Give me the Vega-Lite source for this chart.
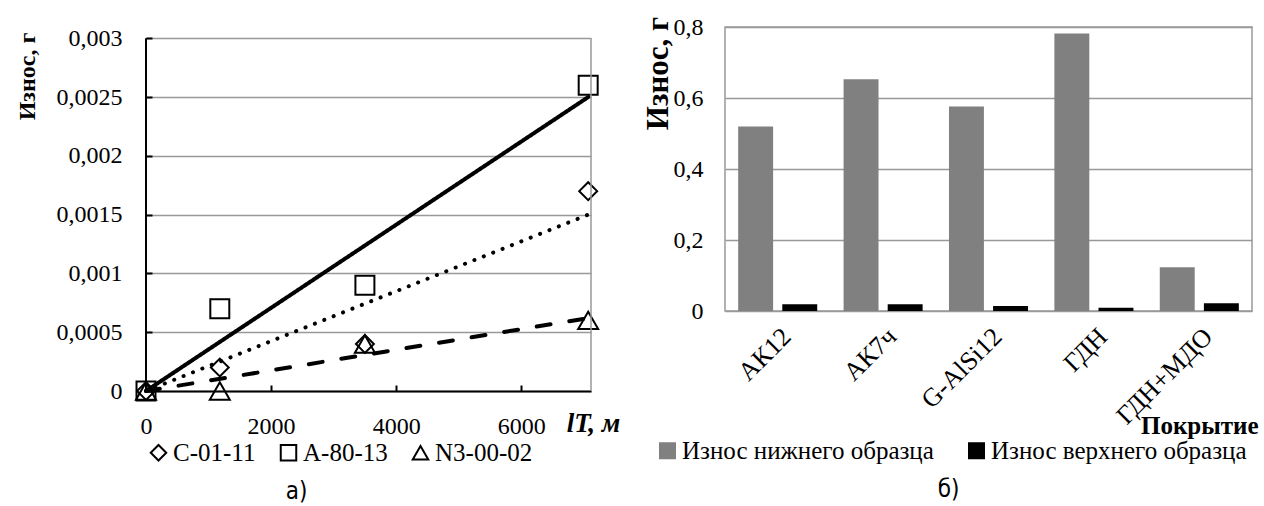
{
  "$schema": "https://vega.github.io/schema/vega-lite/v6.json",
  "background": "white",
  "padding": {"left": 15, "top": 14, "right": 0, "bottom": 0},
  "bounds": "flush",
  "spacing": 134,
  "resolve": {"legend": {"color": "independent", "shape": "independent"}, "scale": {"color": "independent", "shape": "independent"}},
  "config": {
    "view": {"stroke": null},
    "font": "Liberation Serif",
    "axis": {"labelFont": "Liberation Serif", "titleFont": "Liberation Serif", "labelColor": "black", "titleColor": "black", "labelFlush": false},
    "legend": {"labelFont": "Liberation Serif", "labelColor": "black", "labelLimit": 0}
  },
  "datasets": {
    "pts": [
      {"series": "C-01-11", "x": 0, "y": 0},
      {"series": "C-01-11", "x": 1180, "y": 0.0002},
      {"series": "C-01-11", "x": 3500, "y": 0.0004},
      {"series": "C-01-11", "x": 7070, "y": 0.0017},
      {"series": "A-80-13", "x": 0, "y": 0},
      {"series": "A-80-13", "x": 1180, "y": 0.0007},
      {"series": "A-80-13", "x": 3500, "y": 0.0009},
      {"series": "A-80-13", "x": 7070, "y": 0.0026},
      {"series": "N3-00-02", "x": 0, "y": 0},
      {"series": "N3-00-02", "x": 1180, "y": 0},
      {"series": "N3-00-02", "x": 3500, "y": 0.0004},
      {"series": "N3-00-02", "x": 7070, "y": 0.0006}
    ],
    "trend": [
      {"series": "C-01-11", "x": 0, "y": 0},
      {"series": "C-01-11", "x": 7070, "y": 0.0015},
      {"series": "A-80-13", "x": 0, "y": 0},
      {"series": "A-80-13", "x": 7070, "y": 0.0025},
      {"series": "N3-00-02", "x": 0, "y": 0},
      {"series": "N3-00-02", "x": 7070, "y": 0.00062}
    ],
    "bars": [
      {"coating": "АК12", "sample": "Износ нижнего образца", "value": 0.52},
      {"coating": "АК12", "sample": "Износ верхнего образца", "value": 0.019},
      {"coating": "АК7ч", "sample": "Износ нижнего образца", "value": 0.653},
      {"coating": "АК7ч", "sample": "Износ верхнего образца", "value": 0.019},
      {"coating": "G-AlSi12", "sample": "Износ нижнего образца", "value": 0.576},
      {"coating": "G-AlSi12", "sample": "Износ верхнего образца", "value": 0.014},
      {"coating": "ГДН", "sample": "Износ нижнего образца", "value": 0.782},
      {"coating": "ГДН", "sample": "Износ верхнего образца", "value": 0.009},
      {"coating": "ГДН+МДО", "sample": "Износ нижнего образца", "value": 0.123},
      {"coating": "ГДН+МДО", "sample": "Износ верхнего образца", "value": 0.022}
    ]
  },
  "hconcat": [
    {
      "width": 445,
      "height": 364,
      "title": {"text": "а)", "orient": "bottom", "frame": "group", "offset": 14, "anchor": "middle", "dx": -72, "font": "Liberation Sans Narrow, DejaVu Sans Condensed, sans-serif", "fontSize": 24, "fontWeight": "normal", "color": "black"},
      "layer": [
        {
          "data": {"name": "trend"},
          "mark": {"type": "line", "color": "black", "strokeWidth": 4, "strokeCap": "round"},
          "encoding": {
            "x": {"field": "x", "type": "quantitative", "scale": {"domain": [0, 7115], "nice": false, "zero": false},
              "axis": {"title": "lT, м", "values": [0, 2000, 4000, 6000], "format": "d", "grid": false, "domain": true, "domainColor": "black", "domainWidth": 2, "ticks": true, "tickSize": -6, "tickColor": "black", "tickWidth": 2, "labelPadding": 29, "labelFontSize": 24, "titleFontSize": 27, "titleFontStyle": "italic", "titleFontWeight": "bold", "titleX": 447, "titleY": 32, "titleAlign": "center", "titleBaseline": "middle"}},
            "y": {"field": "y", "type": "quantitative", "scale": {"domain": [0, 0.0030963], "nice": false, "zero": false},
              "axis": {"title": "Износ, г", "values": [0, 0.0005, 0.001, 0.0015, 0.002, 0.0025, 0.003], "format": "~g", "labelExpr": "replace(datum.label, '.', ',')", "grid": true, "gridColor": "#999999", "gridWidth": 1.5, "domain": false, "ticks": true, "tickSize": -6, "tickColor": "black", "tickWidth": 2, "labelPadding": 30, "labelFontSize": 24, "titleFontSize": 24, "titleFontWeight": "bold", "titleX": -119, "titleY": 49, "titleAlign": "center", "titleBaseline": "middle", "titleAngle": -90}},
            "strokeDash": {"field": "series", "type": "nominal", "scale": {"domain": ["C-01-11", "A-80-13", "N3-00-02"], "range": [[0.1, 10], [1, 0], [14, 19]]}, "legend": null},
            "detail": {"field": "series"}
          }
        },
        {
          "data": {"name": "pts"},
          "mark": {"type": "point", "filled": false, "stroke": "black", "strokeWidth": 2, "opacity": 1},
          "encoding": {
            "x": {"field": "x", "type": "quantitative"},
            "y": {"field": "y", "type": "quantitative"},
            "shape": {"field": "series", "type": "nominal", "scale": {"domain": ["C-01-11", "A-80-13", "N3-00-02"], "range": ["diamond", "square", "triangle-up"]},
              "legend": {"orient": "none", "legendX": 0, "legendY": 413, "direction": "horizontal", "title": null, "labelFontSize": 25, "symbolStrokeColor": "black", "symbolStrokeWidth": 2, "symbolFillColor": "white", "symbolSize": 240, "columnPadding": 20, "labelOffset": 2}},
            "size": {"field": "series", "type": "nominal", "scale": {"domain": ["C-01-11", "A-80-13", "N3-00-02"], "range": [320, 400, 460]}, "legend": null}
          }
        },
        {
          "data": {"values": [{}]},
          "mark": {"type": "rule", "color": "black", "strokeWidth": 2},
          "encoding": {"x": {"datum": 0}, "y": {"datum": 0}, "y2": {"datum": 0.003}}
        },
        {
          "data": {"values": [{}]},
          "mark": {"type": "rule", "color": "#999999", "strokeWidth": 1.5},
          "encoding": {"x": {"datum": 7115}, "y": {"datum": 0}, "y2": {"datum": 0.003}}
        }
      ]
    },
    {
      "width": 527,
      "height": 284,
      "view": {"stroke": "#999999", "strokeWidth": 1.5},
      "title": {"text": "б)", "orient": "bottom", "frame": "group", "offset": 14, "anchor": "middle", "dx": -40, "font": "Liberation Sans Narrow, DejaVu Sans Condensed, sans-serif", "fontSize": 24, "fontWeight": "normal", "color": "black"},
      "data": {"name": "bars"},
      "mark": {"type": "bar"},
      "encoding": {
        "x": {"field": "coating", "type": "nominal", "sort": null, "scale": {"paddingInner": 0.25, "paddingOuter": 0.125},
          "axis": {"title": "Покрытие", "labelAngle": -45, "ticks": false, "domain": false, "labelFontSize": 26, "labelPadding": 12, "titleFontSize": 25, "titleFontWeight": "bold", "titleX": 533, "titleY": 114, "titleAlign": "right", "titleBaseline": "middle"}},
        "xOffset": {"field": "sample", "sort": null, "scale": {"paddingInner": 0.208, "paddingOuter": 0}},
        "y": {"field": "value", "type": "quantitative", "scale": {"domain": [0, 0.8], "nice": false},
          "axis": {"title": "Износ, г", "values": [0, 0.2, 0.4, 0.6, 0.8], "format": "~g", "labelExpr": "replace(datum.label, '.', ',')", "grid": true, "gridColor": "#999999", "gridWidth": 1.5, "domain": false, "ticks": false, "labelPadding": 22, "labelFontSize": 24, "titleFontSize": 31, "titleFontWeight": "bold", "titleX": -67, "titleY": 46, "titleAlign": "center", "titleBaseline": "middle", "titleAngle": -90}},
        "color": {"field": "sample", "type": "nominal", "sort": null, "scale": {"domain": ["Износ нижнего образца", "Износ верхнего образца"], "range": ["#808080", "#000000"]},
          "legend": {"orient": "none", "legendX": -70, "legendY": 411, "direction": "horizontal", "title": null, "symbolType": "square", "symbolSize": 290, "symbolStrokeWidth": 0, "labelFontSize": 25, "columnPadding": 30, "labelOffset": 2}}
      }
    }
  ]
}
